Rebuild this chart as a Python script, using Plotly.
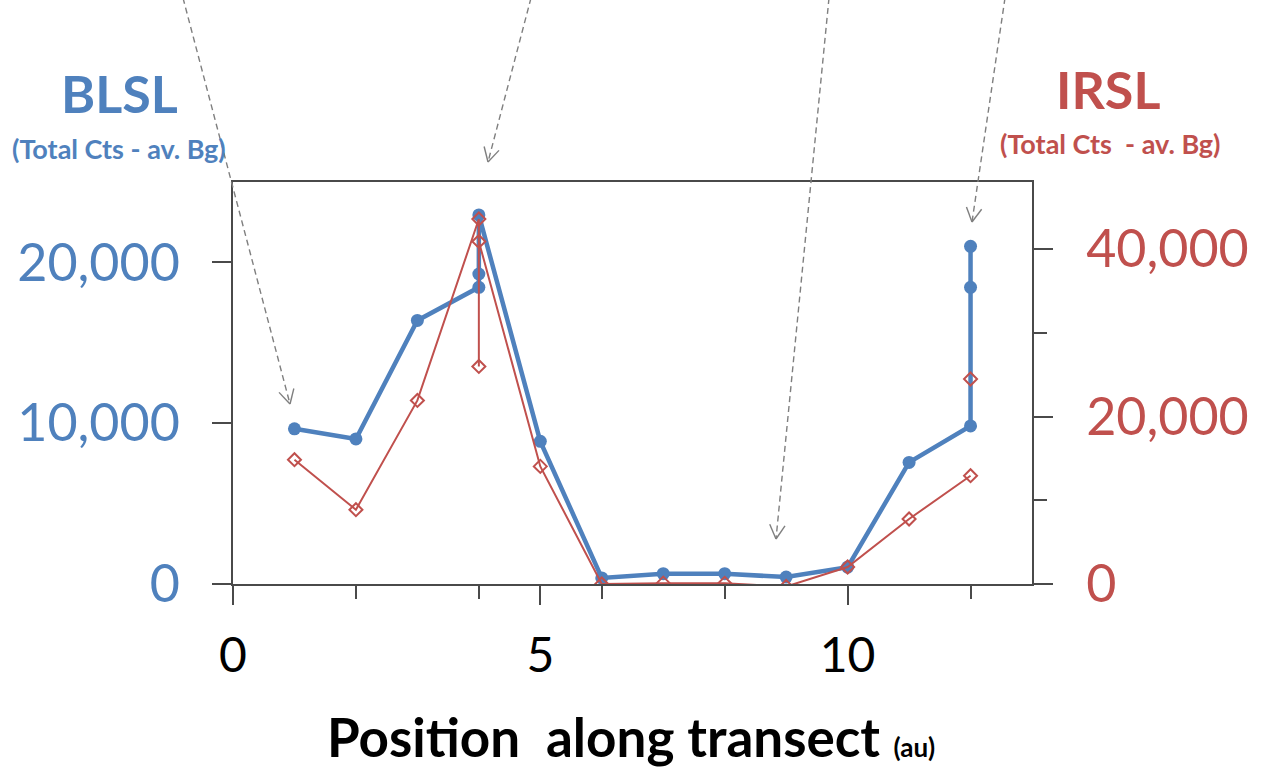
import math
import plotly.graph_objects as go

# ---- data ----
blsl_x = [1, 2, 3, 4, 4, 4, 5, 6, 7, 8, 9, 10, 11, 12, 12, 12]
blsl_y = [9650, 9020, 16390, 18450, 19280, 22950, 8870, 380, 640, 640, 430, 1050, 7560, 9830, 18450, 21000]

irsl_x = [1, 2, 3, 4, 4, 4, 5, 6, 7, 8, 9, 10, 11, 12, None, 12]
irsl_y = [14840, 8870, 21920, 43580, 25980, 40900, 14040, 0, 100, 80, -300, 2030, 7760, 12930, None, 24480]

x_ticks = [0, 5, 10]
left_ticks = [0, 10000, 20000]
right_ticks = [0, 20000, 40000]

BLUE = "#4F81BD"
RED = "#C0504D"
AXC = "#4a4a4a"
FONT = "Lato"

W, H = 1271, 776
L, R, T, B = 233, 1032, 182, 584


def px2paper(px, py):
    return (px - L) / (R - L), (B - py) / (B - T)


fig = go.Figure()
fig.add_trace(go.Scatter(
    x=blsl_x, y=blsl_y, mode="lines+markers", name="BLSL",
    line=dict(color=BLUE, width=4.5),
    marker=dict(symbol="circle", size=13, color=BLUE),
    yaxis="y", cliponaxis=True, connectgaps=False,
))
fig.add_trace(go.Scatter(
    x=irsl_x, y=irsl_y, mode="lines+markers", name="IRSL",
    line=dict(color=RED, width=2),
    marker=dict(symbol="diamond-open", size=10, color=RED, line=dict(width=2)),
    yaxis="y2", cliponaxis=True, connectgaps=False,
))

shapes = []
# dashed arrows (pixel endpoints)
arrows = [((183, -2), (290, 404)), ((531, -2), (488, 162)),
          ((829, -2), (776, 539)), ((1005, -2), (972, 222))]
for (sx, sy), (ex, ey) in arrows:
    x0, y0 = px2paper(sx, sy)
    x1, y1 = px2paper(ex, ey)
    shapes.append(dict(type="line", xref="paper", yref="paper", x0=x0, y0=y0, x1=x1, y1=y1,
                       line=dict(color="#7f7f7f", width=1.4, dash="6px,4px")))
    dx, dy = sx - ex, sy - ey
    n = math.hypot(dx, dy)
    ux, uy = dx / n, dy / n
    for ang in (0.5, -0.5):
        ca, sa = math.cos(ang), math.sin(ang)
        ax = ex + 16 * (ux * ca - uy * sa)
        ay = ey + 16 * (ux * sa + uy * ca)
        a0, b0 = px2paper(ex, ey)
        a1, b1 = px2paper(ax, ay)
        shapes.append(dict(type="line", xref="paper", yref="paper", x0=a0, y0=b0, x1=a1, y1=b1,
                           line=dict(color="#7f7f7f", width=1.4)))

annotations = []


def add_text(text, px, py, size, color, bold=True):
    x, y = px2paper(px, py)
    annotations.append(dict(text=f"<b>{text}</b>" if bold else text, x=x, y=y,
                            xref="paper", yref="paper", xanchor="center", yanchor="middle",
                            showarrow=False, font=dict(family=FONT, size=size, color=color)))


add_text("BLSL", 120, 93, 52, BLUE)
add_text("(Total Cts - av. Bg)", 119, 148, 27, BLUE)
add_text("IRSL", 1108, 89, 52, RED)
add_text("(Total Cts \u00a0- av. Bg)", 1110, 143, 27, RED)

xt, yt = px2paper(631, 736)
annotations.append(dict(
    text="<b>Position \u00a0along transect</b> <b><span style='font-size:26px'>(au)</span></b>",
    x=xt, y=yt, xref="paper", yref="paper", xanchor="center", yanchor="middle",
    showarrow=False, font=dict(family=FONT, size=53, color="black")))

fig.update_layout(
    width=W, height=H, autosize=False,
    margin=dict(l=L, r=W - R, t=T, b=H - B, pad=0),
    paper_bgcolor="white", plot_bgcolor="white",
    showlegend=False,
    font=dict(family=FONT),
    shapes=shapes, annotations=annotations,
    xaxis=dict(range=[0, 13], tickvals=x_ticks, ticktext=[str(v) for v in x_ticks],
               showgrid=False, zeroline=False, showline=True, linecolor=AXC, linewidth=1.5,
               mirror=True, ticks="outside", ticklen=19, tickwidth=1.5, tickcolor=AXC,
               minor=dict(ticks="outside", ticklen=13, tickwidth=1.5, tickcolor=AXC, tick0=0, dtick=2),
               tickfont=dict(family=FONT, size=48, color="black"), ticklabelstandoff=10),
    yaxis=dict(range=[0, 25000], tickvals=left_ticks, tickformat=",",
               showgrid=False, zeroline=False, showline=True, linecolor=AXC, linewidth=1.5,
               ticks="outside", ticklen=19, tickwidth=1.5, tickcolor=AXC,
               tickfont=dict(family=FONT, size=52, color=BLUE), ticklabelstandoff=22),
    yaxis2=dict(range=[0, 48000], tickvals=right_ticks, tickformat=",", overlaying="y", side="right",
                showgrid=False, zeroline=False, showline=True, linecolor=AXC, linewidth=1.5,
                ticks="outside", ticklen=19, tickwidth=1.5, tickcolor=AXC,
                minor=dict(ticks="outside", ticklen=13, tickwidth=1.5, tickcolor=AXC, tick0=0, dtick=10000),
                tickfont=dict(family=FONT, size=52, color=RED), ticklabelstandoff=23),
)

fig.write_html("out.html")
